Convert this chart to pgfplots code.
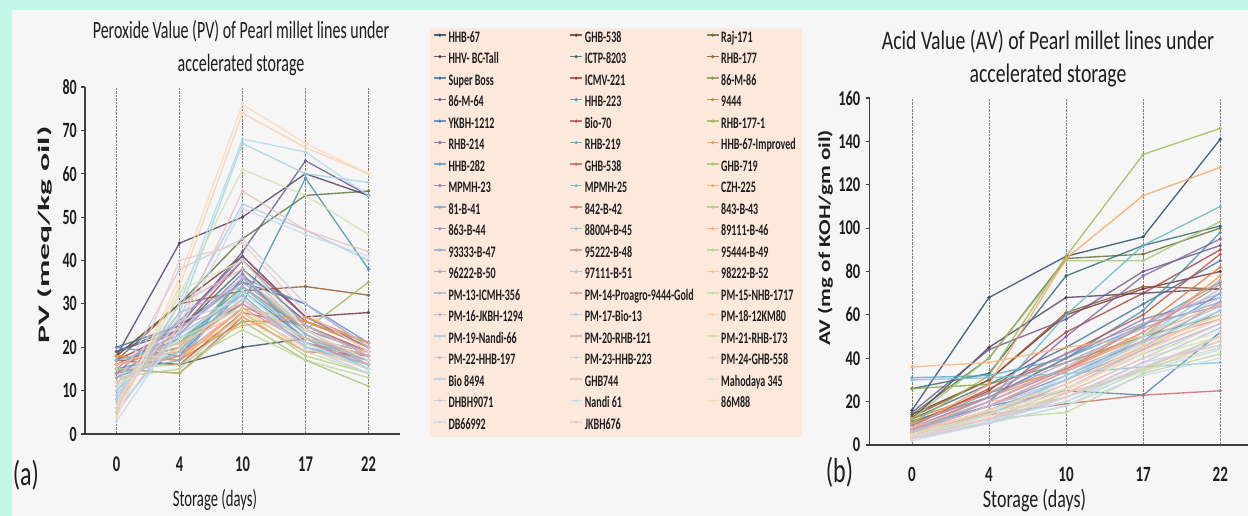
\documentclass[border=0pt]{standalone}
\usepackage{fontspec}
\setmainfont{Carlito}
\usepackage{graphicx}
\usepackage{pgfplots}
\usepackage{pgfplotstable}
\pgfplotsset{compat=1.18}

\definecolor{mint}{HTML}{C3F8E8}
\definecolor{panel}{HTML}{F6F6F6}
\definecolor{peach}{HTML}{FCE9DC}
\definecolor{txt}{HTML}{1E1E1E}
\definecolor{cb1}{HTML}{4F81BD}
\definecolor{cb2}{HTML}{C0504D}
\definecolor{cb3}{HTML}{9BBB59}
\definecolor{cb4}{HTML}{8064A2}
\definecolor{cb5}{HTML}{4BACC6}
\definecolor{cb6}{HTML}{F79646}
\colorlet{c1}{cb1!55!black}\colorlet{c2}{cb2!60!black}\colorlet{c3}{cb3!60!black}
\colorlet{c4}{cb4!60!black}\colorlet{c5}{cb5!60!black}\colorlet{c6}{cb6!60!black}
\colorlet{c7}{cb1!85!black}\colorlet{c8}{cb2!85!black}\colorlet{c9}{cb3!85!black}
\colorlet{c10}{cb4!85!black}\colorlet{c11}{cb5!85!black}\colorlet{c12}{cb6!85!black}
\colorlet{c13}{cb1}\colorlet{c14}{cb2}\colorlet{c15}{cb3}
\colorlet{c16}{cb4}\colorlet{c17}{cb5}\colorlet{c18}{cb6}
\colorlet{c19}{cb1!85!white}\colorlet{c20}{cb2!85!white}\colorlet{c21}{cb3!85!white}
\colorlet{c22}{cb4!85!white}\colorlet{c23}{cb5!85!white}\colorlet{c24}{cb6!85!white}
\colorlet{c25}{cb1!72!white}\colorlet{c26}{cb2!72!white}\colorlet{c27}{cb3!72!white}
\colorlet{c28}{cb4!72!white}\colorlet{c29}{cb5!72!white}\colorlet{c30}{cb6!72!white}
\colorlet{c31}{cb1!62!white}\colorlet{c32}{cb2!62!white}\colorlet{c33}{cb3!62!white}
\colorlet{c34}{cb4!62!white}\colorlet{c35}{cb5!62!white}\colorlet{c36}{cb6!62!white}
\colorlet{c37}{cb1!52!white}\colorlet{c38}{cb2!52!white}\colorlet{c39}{cb3!52!white}
\colorlet{c40}{cb4!52!white}\colorlet{c41}{cb5!52!white}\colorlet{c42}{cb6!52!white}
\colorlet{c43}{cb1!44!white}\colorlet{c44}{cb2!44!white}\colorlet{c45}{cb3!44!white}
\colorlet{c46}{cb4!44!white}\colorlet{c47}{cb5!44!white}\colorlet{c48}{cb6!44!white}
\colorlet{c49}{cb1!36!white}\colorlet{c50}{cb2!36!white}\colorlet{c51}{cb3!36!white}
\colorlet{c52}{cb4!36!white}\colorlet{c53}{cb5!36!white}\colorlet{c54}{cb6!36!white}
\colorlet{c55}{cb1!30!white}\colorlet{c56}{cb2!30!white}

\newcommand{\tallL}[1]{\scalebox{1}[1.55]{#1}}
\newcommand{\tallR}[1]{\scalebox{1}[1.45]{#1}}
\newcommand{\lgA}[1]{\makebox[123pt][l]{\hspace{2pt}\scalebox{1}[1.6]{#1}}}
\newcommand{\lgB}[1]{\makebox[80pt][l]{\hspace{2pt}\scalebox{1}[1.6]{#1}}}

\pgfplotsset{
  ser/.style={color=c#1, line width=1.35pt, mark=*, mark size=0.9pt, opacity=0.82},
  mybase/.style={
    scale only axis,
    axis x line=bottom, axis y line=left,
    axis line style={-, black!75, line width=1.7pt},
    xtick={0,1,2,3,4},
    xtick style={draw=none},
    ytick style={black!75, line width=1.1pt},
    tick align=outside, major tick length=4pt,
    xmajorgrids,
    major x grid style={densely dotted, black!50, line width=0.6pt},
    xticklabel style={inner sep=0pt, anchor=north, text=txt},
    yticklabel style={inner sep=0pt, anchor=east, text=txt},
    legend cell align=left,
    legend image code/.code={\draw[mark repeat=2,mark phase=2,##1] plot coordinates {(0pt,3.8pt)(6pt,3.8pt)(12pt,3.8pt)};},
  }
}

% PV: rows = lines, columns = storage days 0,4,10,17,22
\pgfplotstableread{
id d0 d4 d10 d17 d22
s1 17 16 20 22 19
s2 18 30 41 27 28
s3 18 30 45 55 56
s4 18 44 50 60 55
s5 19 24 38 26 20
s6 17 30 33 34 32
s7 20 25 35 30 20
s8 17 24 40 27 21
s9 16 21 34 24 19
s10 19 25 42 63 55
s11 16 22 30 59 38
s12 18 17 26 26 21
s13 15 18 33 22 18
s14 17 16 28 25 19
s15 16 20 36 24 35
s16 14 26 41 27 20
s17 13 19 36 23 16
s18 18 17 29 26 20
s19 20 18 36 30 21
s20 15 14 27 19 18
s21 15 14 26 17 11
s22 16 23 37 21 17
s23 14 17 34 22 15
s24 17 19 25 27 21
s25 14 22 32 20 16
s26 16 20 30 21 18
s27 13 15 28 18 14
s28 15 26 40 25 18
s29 17 21 31 22 17
s30 16 18 27 19 19
s31 12 20 31 20 17
s32 14 18 29 21 16
s33 15 16 24 17 13
s34 13 24 35 24 19
s35 12 19 33 21 15
s36 16 21 28 20 15
s37 10 23 32 20 16
s38 9 25 30 22 18
s39 11 22 29 19 14
s40 8 28 34 23 17
s41 10 28 67 60 58
s42 12 20 31 22 19
s43 7 27 53 47 40
s44 6 30 38 24 16
s45 7 32 61 55 46
s46 5 24 36 25 18
s47 8 30 68 65 55
s48 6 34 74 66 60
s49 9 26 31 20 14
s50 5 25 56 47 42
s51 4 33 40 24 17
s52 11 38 45 30 20
s53 6 22 33 21 15
s54 4 36 76 67 60
s55 3 24 52 46 41
s56 5 40 44 28 19
}\pvraw
\pgfplotstabletranspose[colnames from=id]\pvdata\pvraw

% AV
\pgfplotstableread{
id d0 d4 d10 d17 d22
s1 16 68 87 96 141
s2 14 30 60 72 80
s3 14 40 86 88 100
s4 12 45 68 70 72
s5 26 33 78 92 101
s6 13 30 61 73 72
s7 12 28 45 65 85
s8 10 25 52 70 90
s9 26 28 38 50 60
s10 15 44 58 80 92
s11 11 22 40 62 98
s12 12 24 35 55 82
s13 8 18 25 23 52
s14 9 26 42 60 88
s15 10 32 87 134 146
s16 7 20 50 78 95
s17 31 32 40 55 75
s18 10 22 35 50 78
s19 6 18 32 48 70
s20 6 14 19 23 25
s21 12 40 85 85 103
s22 8 22 40 58 68
s23 6 20 60 92 110
s24 8 28 86 115 128
s25 5 16 30 45 66
s26 7 20 35 52 74
s27 6 15 22 35 50
s28 9 24 42 56 64
s29 30 31 33 36 38
s30 36 38 45 50 65
s31 4 14 28 44 62
s32 6 18 34 48 58
s33 5 12 15 33 42
s34 7 22 38 54 66
s35 5 16 30 50 72
s36 8 20 24 34 48
s37 4 12 26 42 56
s38 6 18 34 52 76
s39 5 10 18 35 45
s40 7 20 36 56 70
s41 4 14 30 47 62
s42 6 16 28 46 60
s43 3 10 22 38 54
s44 5 15 26 44 58
s45 4 12 24 40 50
s46 6 18 30 48 64
s47 3 14 32 50 68
s48 5 16 28 45 60
s49 4 12 20 36 48
s50 3 10 24 40 56
s51 5 14 26 42 52
s52 4 12 22 38 46
s53 3 11 20 34 44
s54 4 13 25 43 58
s55 2 10 18 32 40
s56 3 12 22 36 50
}\avraw
\pgfplotstabletranspose[colnames from=id]\avdata\avraw

\begin{document}
\begin{tikzpicture}
\useasboundingbox (0pt,0pt) rectangle (1248pt,516pt);
\fill[mint] (0pt,0pt) rectangle (1248pt,516pt);
\fill[panel] (12pt,0pt) rectangle (1248pt,506pt);

% ---------- (a) PV ----------
\begin{axis}[mybase,
  at={(85pt,82pt)}, anchor=south west,
  width=315pt, height=347pt,
  xmin=-0.5, xmax=4.5, ymin=0, ymax=80,
  ytick={0,10,...,80},
  xticklabels={\tallL{0},\tallL{4},\tallL{10},\tallL{17},\tallL{22}},
  xticklabel style={font=\fontsize{14.5}{15}\selectfont\bfseries, yshift=-19pt},
  yticklabel={\tallL{\pgfmathprintnumber[assume math mode=true]{\tick}}},
  yticklabel style={font=\fontsize{14}{15}\selectfont\bfseries, xshift=-4pt},
  legend style={at={(axis description cs:1.0952,1.1700)}, anchor=north west,
    fill=peach, draw=none, inner xsep=3pt, inner ysep=0pt,
    row sep=0pt, column sep=0pt,
    nodes={inner sep=0pt, text height=14.2pt, text depth=7.3pt},
    font=\fontsize{10}{12}\selectfont\bfseries, text=txt,
    legend columns=3},
]
\pgfplotsinvokeforeach{1,...,56}{
  \addplot[ser=#1] table[x expr=\coordindex, y=s#1]{\pvdata};
}
\legend{\lgA{HHB-67},\lgA{GHB-538},\lgB{Raj-171},
\lgA{HHV- BC-Tall},\lgA{ICTP-8203},\lgB{RHB-177},
\lgA{Super Boss},\lgA{ICMV-221},\lgB{86-M-86},
\lgA{86-M-64},\lgA{HHB-223},\lgB{9444},
\lgA{YKBH-1212},\lgA{Bio-70},\lgB{RHB-177-1},
\lgA{RHB-214},\lgA{RHB-219},\lgB{HHB-67-Improved},
\lgA{HHB-282},\lgA{GHB-538},\lgB{GHB-719},
\lgA{MPMH-23},\lgA{MPMH-25},\lgB{CZH-225},
\lgA{81-B-41},\lgA{842-B-42},\lgB{843-B-43},
\lgA{863-B-44},\lgA{88004-B-45},\lgB{89111-B-46},
\lgA{93333-B-47},\lgA{95222-B-48},\lgB{95444-B-49},
\lgA{96222-B-50},\lgA{97111-B-51},\lgB{98222-B-52},
\lgA{PM-13-ICMH-356},\lgA{PM-14-Proagro-9444-Gold},\lgB{PM-15-NHB-1717},
\lgA{PM-16-JKBH-1294},\lgA{PM-17-Bio-13},\lgB{PM-18-12KM80},
\lgA{PM-19-Nandi-66},\lgA{PM-20-RHB-121},\lgB{PM-21-RHB-173},
\lgA{PM-22-HHB-197},\lgA{PM-23-HHB-223},\lgB{PM-24-GHB-558},
\lgA{Bio 8494},\lgA{GHB744},\lgB{Mahodaya 345},
\lgA{DHBH9071},\lgA{Nandi 61},\lgB{86M88},
\lgA{DB66992},\lgA{JKBH676}}
\end{axis}

% ---------- (b) AV ----------
\begin{axis}[mybase,
  at={(869.5pt,71pt)}, anchor=south west,
  width=378.5pt, height=347pt,
  xmin=-0.55, xmax=4.36, ymin=0, ymax=160,
  ytick={0,20,...,160},
  xticklabels={\tallR{0},\tallR{4},\tallR{10},\tallR{17},\tallR{22}},
  xticklabel style={font=\fontsize{15}{16}\selectfont\bfseries, yshift=-18pt},
  yticklabel={\tallR{\pgfmathprintnumber[assume math mode=true]{\tick}}},
  yticklabel style={font=\fontsize{14.5}{15}\selectfont\bfseries, xshift=-5pt},
]
\pgfplotsinvokeforeach{1,...,56}{
  \addplot[ser=#1] table[x expr=\coordindex, y=s#1]{\avdata};
}
\end{axis}

% ---------- texts ----------
\node[anchor=base, font=\fontsize{16}{19}\selectfont, text=txt] at (241pt,477.5pt) {\scalebox{1}[1.55]{Peroxide Value (PV) of Pearl millet lines under}};
\node[anchor=base, font=\fontsize{16}{19}\selectfont, text=txt] at (241pt,444.3pt) {\scalebox{1}[1.55]{accelerated storage}};
\node[anchor=base, font=\fontsize{19.8}{22}\selectfont, text=txt] at (1048pt,466pt) {\scalebox{1}[1.35]{Acid Value (AV) of Pearl millet lines under}};
\node[anchor=base, font=\fontsize{19.8}{22}\selectfont, text=txt] at (1048pt,433pt) {\scalebox{1}[1.35]{accelerated storage}};
\node[rotate=90, font=\fontsize{16}{18}\selectfont\bfseries, text=txt] at (45pt,281pt) {\scalebox{2.1}[1]{PV (meq/kg oil)}};
\node[rotate=90, font=\fontsize{16.5}{18}\selectfont\bfseries, text=txt] at (825.5pt,278pt) {\scalebox{1.4}[1]{AV (mg of KOH/gm oil)}};
\node[anchor=base, font=\fontsize{14.7}{16}\selectfont, text=txt] at (215pt,9pt) {\scalebox{1}[1.6]{Storage (days)}};
\node[anchor=base, font=\fontsize{18}{20}\selectfont, text=txt] at (1034.5pt,8pt) {\scalebox{1}[1.4]{Storage (days)}};
\node[anchor=base, font=\fontsize{24}{26}\selectfont, text=txt] at (26pt,30pt) {\scalebox{1}[1.45]{(a)}};
\node[anchor=base, font=\fontsize{24}{26}\selectfont, text=txt] at (839.5pt,33pt) {\scalebox{1}[1.45]{(b)}};
\end{tikzpicture}
\end{document}
